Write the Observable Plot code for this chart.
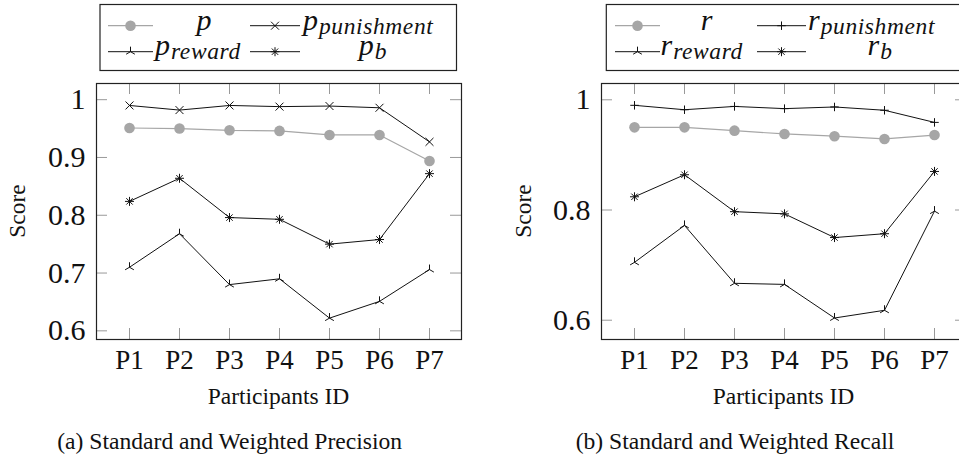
<!DOCTYPE html>
<html><head><meta charset="utf-8">
<script src="https://cdn.jsdelivr.net/npm/d3@7"></script>
<script src="https://cdn.jsdelivr.net/npm/@observablehq/plot@0.6"></script>
<style>
html,body{margin:0;padding:0;background:#fff;overflow:hidden;width:959px;height:459px;}
#root{position:relative;width:959px;height:459px;overflow:hidden;font-family:'Liberation Serif';}
#root > svg{position:absolute;top:0;}
#overlay{position:absolute;left:0;top:0;pointer-events:none;}
.t{position:absolute;font-family:'Liberation Serif';line-height:1;white-space:nowrap;color:#111;}
</style></head>
<body><div id="root"></div>
<script>
// ---- data ----
const participants = ["P1","P2","P3","P4","P5","P6","P7"];
const precisionP          = [0.951,0.950,0.947,0.946,0.939,0.939,0.894];
const precisionPunishment = [0.990,0.982,0.990,0.988,0.989,0.986,0.927];
const precisionReward     = [0.710,0.768,0.680,0.690,0.622,0.651,0.706];
const precisionB          = [0.824,0.864,0.796,0.793,0.750,0.758,0.872];
const recallR             = [0.950,0.950,0.944,0.938,0.934,0.929,0.936];
const recallPunishment    = [0.990,0.982,0.988,0.984,0.987,0.981,0.959];
const recallReward        = [0.705,0.772,0.667,0.665,0.604,0.618,0.798];
const recallB             = [0.824,0.864,0.797,0.793,0.750,0.757,0.870];
const precisionTicks = [0.6,0.7,0.8,0.9,1];
const recallTicks = [0.6,0.8,1];
const yLabel = "Score";
const xLabel = "Participants ID";
const captionA = "(a) Standard and Weighted Precision";
const captionB = "(b) Standard and Weighted Recall";

const FONT = "Liberation Serif";

// ---- symbols ----
const rad = s => Math.sqrt(s/Math.PI);
const symTimes = {draw(c,s){const a=rad(s)*0.75;c.moveTo(-a,-a);c.lineTo(a,a);c.moveTo(-a,a);c.lineTo(a,-a);}};
const symPlus = {draw(c,s){const a=rad(s)*0.8;c.moveTo(-a,0);c.lineTo(a,0);c.moveTo(0,-a);c.lineTo(0,a);}};
const symAst = {draw(c,s){const a=rad(s)*0.85;for(let k=0;k<4;k++){const t=k*Math.PI/4;c.moveTo(-a*Math.cos(t),-a*Math.sin(t));c.lineTo(a*Math.cos(t),a*Math.sin(t));}}};
const symTri = {draw(c,s){const a=rad(s)*0.95;for(const deg of [-90,30,150]){const t=deg*Math.PI/180;c.moveTo(0,0);c.lineTo(a*Math.cos(t),a*Math.sin(t));}}};

const GRAY = "#a6a6a6", INK = "#111";
const H = 420, MT = 83, MB = 81;
const fmt = d => d === 1 ? "1" : d.toFixed(1);

function makeChart({width, marginLeft, marginRight, yDomain, yTicks, series}) {
  const plotW = width - marginLeft - marginRight;
  const plotH = H - MT - MB;
  const marks = [
    Plot.tickY(yTicks, {y: d=>d, insetRight: plotW-11, stroke:"#999"}),
    Plot.tickY(yTicks, {y: d=>d, insetLeft: plotW-11, stroke:"#999"}),
    Plot.tickX(participants, {x: d=>d, insetBottom: plotH-11, stroke:"#999"}),
    Plot.tickX(participants, {x: d=>d, insetTop: plotH-11, stroke:"#999"}),
    Plot.axisX({tickSize:0, tickPadding:10, fontSize:27, fontFamily:FONT, label:null}),
    Plot.axisY({ticks:yTicks, tickSize:0, tickPadding:11, fontSize:30, fontFamily:FONT, tickFormat:fmt, label:null})
  ];
  for (const s of series) {
    const rows = participants.map((p,i)=>({participant:p, value:s.values[i]}));
    marks.push(Plot.line(rows, {x:"participant", y:"value", stroke:s.color, strokeWidth:s.lw}));
    marks.push(Plot.dot(rows, {x:"participant", y:"value", symbol:s.symbol, r:s.r, fill:s.fill, stroke:s.stroke, strokeWidth:1}));
  }
  marks.push(Plot.frame({stroke:"#222", strokeWidth:1.2}));
  const svg = Plot.plot({
    width, height:H, marginTop:MT, marginBottom:MB, marginLeft, marginRight,
    x:{type:"point", domain:participants, padding:0.6},
    y:{domain:yDomain},
    style:{fontSize:"27px", color:"#111", background:"transparent", overflow:"visible"},
    marks
  });
  svg.setAttribute("font-family", FONT);
  return svg;
}

const seriesStyle = (values, kind) => {
  if (kind==="circle") return {values, color:GRAY, lw:1.2, symbol:"circle", r:5.3, fill:GRAY, stroke:"none"};
  const sym = {times:symTimes, plus:symPlus, ast:symAst, tri:symTri}[kind];
  return {values, color:INK, lw:1, symbol:sym, r:5.3, fill:"none", stroke:INK};
};

const root = document.getElementById("root");
const left = makeChart({width:480, marginLeft:96, marginRight:19, yDomain:[0.585,1.028], yTicks:precisionTicks,
  series:[seriesStyle(precisionP,"circle"), seriesStyle(precisionPunishment,"times"), seriesStyle(precisionReward,"tri"), seriesStyle(precisionB,"ast")]});
left.style.left = "0px";
root.appendChild(left);
const right = makeChart({width:500, marginLeft:121, marginRight:14, yDomain:[0.565,1.0296], yTicks:recallTicks,
  series:[seriesStyle(recallR,"circle"), seriesStyle(recallPunishment,"plus"), seriesStyle(recallReward,"tri"), seriesStyle(recallB,"ast")]});
right.style.left = "480px";
root.appendChild(right);
d3.selectAll("#root svg text").attr("font-family", FONT);

// ---- overlay: legend boxes and swatches ----
const ov = d3.select(root).append("svg").attr("id","overlay").attr("width",959).attr("height",459);

function symPath(sym, size){ const p = d3.path(); sym.draw(p, size); return p.toString(); }
function swatch(x1, x2, y, kind){
  const s = seriesStyle([], kind);
  ov.append("line").attr("x1",x1).attr("x2",x2).attr("y1",y).attr("y2",y).attr("stroke",s.color).attr("stroke-width",s.lw);
  const mx=(x1+x2)/2;
  if (kind==="circle") ov.append("circle").attr("cx",mx).attr("cy",y).attr("r",5.3).attr("fill",GRAY);
  else ov.append("path").attr("d",symPath(s.symbol, Math.PI*5.3*5.3)).attr("transform",`translate(${mx},${y})`).attr("fill","none").attr("stroke",INK);
}
function legendBox(x, w){
  ov.append("rect").attr("x",x).attr("y",4.5).attr("width",w).attr("height",66).attr("fill","#fff").attr("stroke","#222").attr("stroke-width",1.2);
}

// ---- HTML text ----
const ASC = 0.8375;
function htmlDiv(x, baseline, size, anchor){
  const d = document.createElement("div");
  d.className = "t";
  d.style.left = x + "px";
  d.style.top = (baseline - ASC*size) + "px";
  d.style.fontSize = size + "px";
  if (anchor === "middle") d.style.transform = "translateX(-50%)";
  root.appendChild(d);
  return d;
}
function mathText(x, baseline, main, sub, anchor){
  const d = htmlDiv(x, baseline, 30, anchor);
  d.style.fontStyle = "italic";
  const m = document.createElement("span"); m.textContent = main; d.appendChild(m);
  if (sub) {
    const s = document.createElement("span");
    s.textContent = sub;
    s.style.cssText = "font-size:23.5px;position:relative;top:4px;margin-left:1px;letter-spacing:0.6px;";
    d.appendChild(s);
  }
}
function label(x, baseline, txt, size){
  const d = htmlDiv(x, baseline, size, "middle");
  d.textContent = txt;
}
function vlabel(cx, cy, txt, size){
  const d = document.createElement("div");
  d.className = "t";
  d.style.fontSize = size + "px";
  d.style.left = cx + "px";
  d.style.top = cy + "px";
  d.style.transform = "translate(-50%,-50%) rotate(-90deg)";
  d.textContent = txt;
  root.appendChild(d);
}

// left legend
legendBox(100, 356.5);
swatch(108,153,25.7,"circle"); mathText(204,30,"p",null,"middle");
swatch(250,300,25.7,"times"); mathText(303,30,"p","punishment","start");
swatch(108,153,51.7,"tri"); mathText(155,55.5,"p","reward","start");
swatch(250,300,51.7,"ast"); mathText(373,55.5,"p","b","middle");
// right legend
legendBox(606.3, 400);
swatch(615,660,25.7,"circle"); mathText(706.7,30,"r",null,"middle");
swatch(757,806,25.7,"plus"); mathText(808,30,"r","punishment","start");
swatch(615,660,51.7,"tri"); mathText(660.5,55.5,"r","reward","start");
swatch(757,806,51.7,"ast"); mathText(880,55.5,"r","b","middle");

vlabel(17.6, 211, yLabel, 23.5);
vlabel(523.6, 211, yLabel, 23.5);
label(278.5, 405, xLabel, 23.5);
label(783.5, 405, xLabel, 23.5);
label(229.7, 449.5, captionA, 23.6);
label(735, 449.5, captionB, 23.6);
</script>
</body></html>
